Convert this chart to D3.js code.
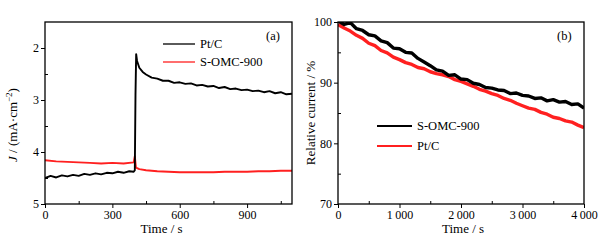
<!DOCTYPE html>
<html>
<head>
<meta charset="UTF-8">
<title></title>
<script src="https://d3js.org/d3.v7.min.js"></script>
<style>
  body { margin: 0; background: #fff; }
  svg text { font-family: "Liberation Serif", "Times New Roman", serif; fill: #000; }
</style>
</head>
<body>
<div id="svg"></div>
<script>
// panel (a): J vs time
const timeA_pt = [0,25,50,75,100,125,150,175,200,225,250,275,300,325,350,375,395,400,403,406,410,420,435,450,475,500,525,550,575,600,625,650,675,700,725,750,775,800,825,850,875,900,925,950,975,1000,1025,1050,1075,1100];
const ptcA = [4.50,4.46,4.49,4.45,4.47,4.44,4.46,4.42,4.44,4.41,4.43,4.40,4.41,4.38,4.40,4.37,4.38,4.35,2.90,2.12,2.25,2.38,2.46,2.51,2.57,2.59,2.63,2.63,2.67,2.66,2.69,2.68,2.72,2.71,2.74,2.73,2.77,2.75,2.79,2.78,2.81,2.80,2.83,2.82,2.85,2.83,2.87,2.85,2.89,2.88];
const timeA_s = [0,50,100,150,200,250,300,350,395,400,405,420,450,500,550,600,650,700,750,800,850,900,950,1000,1050,1100];
const somcA = [4.16,4.18,4.19,4.20,4.21,4.22,4.21,4.22,4.20,4.08,4.30,4.33,4.35,4.37,4.38,4.39,4.39,4.39,4.39,4.38,4.38,4.38,4.37,4.37,4.36,4.36];
const xTicksA = [0,300,600,900];
const xMinorA = [150,450,750,1050];
const yTicksA = [2,3,4,5];
const yMinorA = [2.5,3.5,4.5];

// panel (b): relative current vs time
const timeB = [0,100,200,300,400,500,600,700,800,900,1000,1100,1200,1300,1400,1500,1600,1700,1800,1900,2000,2100,2200,2300,2400,2500,2600,2700,2800,2900,3000,3100,3200,3300,3400,3500,3600,3700,3800,3900,4000];
const somcB = [100.2,99.6,99.9,98.9,98.6,97.9,97.7,96.9,96.6,95.7,95.6,95.0,94.9,94.0,93.4,92.8,92.1,91.9,91.2,91.3,90.6,90.5,89.9,89.7,89.2,89.1,88.8,88.7,88.2,88.3,87.9,87.8,87.4,87.5,87.0,87.2,86.8,86.9,86.4,86.5,85.8];
const ptcB = [99.6,99.0,98.5,97.8,97.3,96.5,96.1,95.3,94.9,94.2,93.8,93.3,93.0,92.5,92.3,91.8,91.5,91.3,91.0,90.5,90.2,89.8,89.4,88.9,88.6,88.2,87.9,87.4,87.1,86.6,86.2,85.8,85.6,85.1,84.8,84.3,84.1,83.7,83.5,83.0,82.6];
const xTicksB = [0,1000,2000,3000,4000];
const xMinorB = [500,1500,2500,3500];
const yTicksB = [70,80,90,100];
const yMinorB = [75,85,95];

const width = 604, height = 242;
const svg = d3.select("#svg").append("svg").attr("width", width).attr("height", height);

const fmtSpace = d => d >= 1000 ? d3.format(",")(d).replace(",", "\u2009") : String(d);

function panel(o) {
  const g = svg.append("g");
  const x = d3.scaleLinear().domain(o.xDomain).range([o.left, o.right]);
  const y = d3.scaleLinear().domain(o.yDomain).range([o.top, o.bottom]);

  const clipId = "clip" + o.name;
  svg.append("clipPath").attr("id", clipId).append("rect")
    .attr("x", o.left).attr("y", o.top).attr("width", o.right - o.left).attr("height", o.bottom - o.top);

  // minor ticks inside
  g.append("g").attr("transform", `translate(0,${o.bottom})`)
    .call(d3.axisBottom(x).tickValues(o.xMinor).tickSize(-3).tickFormat(""))
    .call(a => a.select(".domain").remove());
  g.append("g").attr("transform", `translate(${o.left},0)`)
    .call(d3.axisLeft(y).tickValues(o.yMinor).tickSize(-3).tickFormat(""))
    .call(a => a.select(".domain").remove());

  // major ticks outside
  const gx = g.append("g").attr("transform", `translate(0,${o.bottom})`)
    .call(d3.axisBottom(x).tickValues(o.xTicks).tickSize(4).tickPadding(2).tickFormat(o.xFormat));
  gx.select(".domain").remove();
  gx.selectAll("text").attr("font-size", 12).attr("font-family", null);
  const gy = g.append("g").attr("transform", `translate(${o.left},0)`)
    .call(d3.axisLeft(y).tickValues(o.yTicks).tickSize(4).tickPadding(2).tickFormat(d => d));
  gy.select(".domain").remove();
  gy.selectAll("text").attr("font-size", 12).attr("font-family", null);
  g.selectAll(".tick line").attr("stroke", "#000").attr("stroke-width", 1);

  // series
  const lines = g.append("g").attr("clip-path", `url(#${clipId})`);
  o.series.forEach(s => {
    const line = d3.line().x((d, i) => x(s.t[i])).y(d => y(d));
    lines.append("path").datum(s.v)
      .attr("fill", "none").attr("stroke", s.color)
      .attr("stroke-width", o.lineWidth).attr("stroke-linejoin", "round")
      .attr("d", line);
  });

  // frame
  g.append("rect").attr("x", o.left).attr("y", o.top)
    .attr("width", o.right - o.left).attr("height", o.bottom - o.top)
    .attr("fill", "none").attr("stroke", "#000").attr("stroke-width", 1.3);

  // x title
  g.append("text").attr("x", (o.left + o.right) / 2 + o.xTitleShift).attr("y", 233)
    .attr("text-anchor", "middle").attr("font-size", 13).text("Time / s");

  // legend
  o.legend.forEach((l, i) => {
    const ly = o.legendY + i * o.legendGap;
    g.append("line").attr("x1", o.legendX).attr("x2", o.legendX + o.legendLen)
      .attr("y1", ly).attr("y2", ly).attr("stroke", l.color).attr("stroke-width", o.legendWidth);
    g.append("text").attr("x", o.legendX + o.legendLen + 5).attr("y", ly + 4)
      .attr("font-size", 12.5).text(l.label);
  });

  g.append("text").attr("x", o.tagX).attr("y", 40).attr("font-size", 12.5).text(o.tag);
  return g;
}

const ga = panel({
  name: "a", left: 45, right: 292, top: 22, bottom: 204,
  xDomain: [0, 1100], yDomain: [1.5, 5],
  xTicks: xTicksA, xMinor: xMinorA, yTicks: yTicksA, yMinor: yMinorA,
  xFormat: d => d, xTitleShift: -7, lineWidth: 1.9,
  series: [
    { t: timeA_s, v: somcA, color: "#ff2020" },
    { t: timeA_pt, v: ptcA, color: "#000" }
  ],
  legend: [{ label: "Pt/C", color: "#000" }, { label: "S-OMC-900", color: "#ff2020" }],
  legendX: 163, legendLen: 32, legendY: 44, legendGap: 18, legendWidth: 1.3,
  tag: "(a)", tagX: 266
});
const yl = ga.append("text").attr("transform", "translate(17,125) rotate(-90)")
  .attr("text-anchor", "middle").attr("font-size", 13);
yl.append("tspan").attr("font-style", "italic").text("J");
yl.append("tspan").text(" / (mA\u00b7cm");
yl.append("tspan").attr("font-size", 9).attr("dy", -5).text("\u22122");
yl.append("tspan").attr("dy", 5).text(")");

const gb = panel({
  name: "b", left: 338, right: 584, top: 22, bottom: 204,
  xDomain: [0, 4000], yDomain: [100, 70],
  xTicks: xTicksB, xMinor: xMinorB, yTicks: yTicksB, yMinor: yMinorB,
  xFormat: fmtSpace, xTitleShift: 2, lineWidth: 3.4,
  series: [
    { t: timeB, v: ptcB, color: "#ff2020" },
    { t: timeB, v: somcB, color: "#000" }
  ],
  legend: [{ label: "S-OMC-900", color: "#000" }, { label: "Pt/C", color: "#ff2020" }],
  legendX: 377, legendLen: 35, legendY: 126, legendGap: 20, legendWidth: 2.2,
  tag: "(b)", tagX: 557
});
gb.append("text").attr("transform", "translate(315,113) rotate(-90)")
  .attr("text-anchor", "middle").attr("font-size", 13).text("Relative current / %");
</script>
</body>
</html>
